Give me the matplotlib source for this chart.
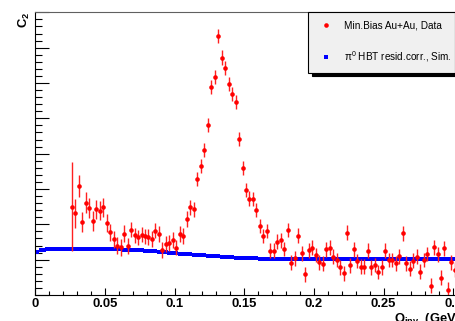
import numpy as np
import matplotlib
matplotlib.use('Agg')
import matplotlib.pyplot as plt
from matplotlib.ticker import MultipleLocator, FuncFormatter
from matplotlib.lines import Line2D

plt.rcParams['font.family'] = ['Liberation Sans', 'DejaVu Sans']
plt.rcParams['mathtext.default'] = 'regular'

# ---------------------------------------------------------
# Data, bins of 0.0025 GeV in Q_inv
# ---------------------------------------------------------
c2_data = [
    1.0150, 1.0131, 1.0208, 1.0107, 1.0161, 1.0147, 1.0109, 1.0143, 1.0139, 1.0148,
    1.0103, 1.0078, 1.0058, 1.0039, 1.0035, 1.0074, 1.0039, 1.0085, 1.0069, 1.0063,
    1.0071, 1.0066, 1.0064, 1.0059, 1.0082, 1.0072, 1.0027, 1.0044, 1.0047, 1.0056,
    1.0034, 1.0072, 1.0067, 1.0115, 1.0148, 1.0142, 1.0228, 1.0265, 1.0310, 1.0380,
    1.0488, 1.0516, 1.0632, 1.0572, 1.0542, 1.0496, 1.0469, 1.0445, 1.0341, 1.0259,
    1.0197, 1.0173, 1.0172, 1.0140, 1.0095, 1.0067, 1.0081, 1.0025, 1.0025, 1.0051,
    1.0055, 1.0030, 1.0084, 0.9991, 1.0004, 1.0068, 1.0018, 0.9959, 1.0027, 1.0034,
    1.0013, 0.9993, 0.9989, 1.0029, 1.0034, 1.0008, 0.9999, 0.9979, 0.9961, 1.0076,
    0.9984, 1.0029, 0.9996, 0.9980, 0.9980, 1.0025, 0.9978, 0.9985, 0.9965, 0.9979,
    1.0025, 0.9999, 0.9999, 0.9990, 1.0010, 1.0075, 0.9990, 0.9974, 0.9997, 1.0008,
    0.9966, 0.9999, 1.0016, 0.9926, 1.0035, 1.0015, 0.9949, 1.0032, 0.9915, 0.9993,
    0.9971,
]
c2_err = [
    0.0125, 0.0040, 0.0031, 0.0028, 0.0030, 0.0028, 0.0028, 0.0027, 0.0027, 0.0026,
    0.0025, 0.0024, 0.0024, 0.0024, 0.0024, 0.0024, 0.0023, 0.0022, 0.0022, 0.0022,
    0.0022, 0.0022, 0.0022, 0.0022, 0.0022, 0.0022, 0.0022, 0.0022, 0.0022, 0.0022,
    0.0022, 0.0022, 0.0022, 0.0022, 0.0022, 0.0022, 0.0020, 0.0020, 0.0020, 0.0020,
    0.0020, 0.0020, 0.0020, 0.0020, 0.0020, 0.0020, 0.0020, 0.0020, 0.0020, 0.0020,
    0.0020, 0.0020, 0.0020, 0.0020, 0.0020, 0.0020, 0.0020, 0.0021, 0.0021, 0.0021,
    0.0021, 0.0021, 0.0021, 0.0021, 0.0021, 0.0021, 0.0021, 0.0021, 0.0021, 0.0021,
    0.0021, 0.0021, 0.0021, 0.0021, 0.0021, 0.0021, 0.0021, 0.0021, 0.0021, 0.0021,
    0.0021, 0.0021, 0.0021, 0.0021, 0.0021, 0.0021, 0.0021, 0.0021, 0.0021, 0.0021,
    0.0021, 0.0021, 0.0021, 0.0021, 0.0021, 0.0021, 0.0021, 0.0021, 0.0021, 0.0021,
    0.0021, 0.0021, 0.0021, 0.0021, 0.0021, 0.0021, 0.0021, 0.0021, 0.0021, 0.0021,
    0.0021,
]
q_data = 0.02625 + 0.0025 * np.arange(len(c2_data))

c2_sim = [
    1.0022, 1.0026, 1.0028, 1.0029, 1.0029, 1.0029, 1.0030, 1.0030, 1.0030, 1.0030,
    1.0030, 1.0030, 1.0030, 1.0030, 1.0030, 1.0030, 1.0030, 1.0030, 1.0030, 1.0030,
    1.0030, 1.0029, 1.0029, 1.0029, 1.0029, 1.0028, 1.0028, 1.0027, 1.0027, 1.0026,
    1.0026, 1.0025, 1.0025, 1.0024, 1.0024, 1.0023, 1.0022, 1.0021, 1.0020, 1.0019,
    1.0018, 1.0017, 1.0017, 1.0016, 1.0015, 1.0014, 1.0013, 1.0013, 1.0012, 1.0011,
    1.0010, 1.0010, 1.0009, 1.0008, 1.0008, 1.0007, 1.0007, 1.0006, 1.0006, 1.0005,
    1.0005, 1.0004, 1.0004, 1.0004, 1.0003, 1.0003, 1.0003, 1.0002, 1.0002, 1.0002,
    1.0002, 1.0002, 1.0002, 1.0002, 1.0002, 1.0002, 1.0002, 1.0002, 1.0002, 1.0002,
    1.0002, 1.0002, 1.0002, 1.0002, 1.0002, 1.0002, 1.0001, 1.0001, 1.0001, 1.0001,
    1.0001, 1.0001, 1.0001, 1.0001, 1.0001, 1.0001, 1.0001, 1.0001, 1.0001, 1.0001,
    1.0001, 1.0001, 1.0001, 1.0001, 1.0001, 1.0001, 1.0001, 1.0001, 1.0001, 1.0001,
    1.0001, 1.0001, 1.0001, 1.0001, 1.0001, 1.0001, 1.0001, 1.0001, 1.0001, 1.0001,
    1.0001, 1.0001, 1.0001,
]
q_sim = 0.00125 + 0.0025 * np.arange(len(c2_sim))

label_data = "Min.Bias Au+Au, Data"
label_sim = "π$^0$ HBT resid.corr., Sim."

# ---------------------------------------------------------
# Figure
# ---------------------------------------------------------
W, H = 456, 321
fig = plt.figure(figsize=(W / 100, H / 100), dpi=100)
ax = fig.add_axes([35.3 / W, 26 / H, 0.31 * 1393 / W, 282.7 / H])

ax.plot(q_sim, c2_sim, ls='', marker='s', ms=3.0, mew=0, color='#0000ff', zorder=2)
ax.errorbar(q_data, c2_data, yerr=c2_err, fmt='o', ms=3.3, mew=0, color='#ff0000',
            ecolor='#ff2020', elinewidth=1.0, capsize=0, zorder=3)

ax.set_xlim(0, 0.31)
ax.set_ylim(0.99, 1.07)

ax.xaxis.set_major_locator(MultipleLocator(0.05))
ax.xaxis.set_minor_locator(MultipleLocator(0.01))
ax.yaxis.set_major_locator(MultipleLocator(0.01))
ax.yaxis.set_minor_locator(MultipleLocator(0.002))
ax.xaxis.set_major_formatter(FuncFormatter(lambda v, p: f"{v:g}"))

ax.tick_params(axis='x', which='major', direction='in', length=5.3, width=0.8,
               pad=2, labelsize=9.4)
ax.tick_params(axis='x', which='minor', direction='in', length=2.6, width=0.8)
ax.tick_params(axis='y', which='major', direction='in', length=9.9, width=0.8,
               labelleft=False)
ax.tick_params(axis='y', which='minor', direction='in', length=5, width=0.8)
for lab in ax.get_xticklabels():
    lab.set_fontweight('bold')

ax.spines['top'].set_color('#606060')
ax.spines['right'].set_visible(False)
for s in ax.spines.values():
    s.set_linewidth(0.8)

# legend
handles = [
    Line2D([], [], ls='', marker='o', ms=3.3, mew=0, color='#ff0000'),
    Line2D([], [], ls='', marker='s', ms=2.4, mew=0, color='#0000ff'),
]
leg = ax.legend(handles, [label_data, label_sim], loc='upper left',
                bbox_to_anchor=(308 / W, 1 - 72 / H, 147 / W, 60 / H),
                bbox_transform=fig.transFigure, mode='expand',
                fontsize=7.2, frameon=True, fancybox=False,
                shadow={'ox': 3, 'oy': -2.2, 'color': 'black', 'alpha': 1},
                borderpad=0.85, labelspacing=1.9, handlelength=2.0,
                handletextpad=0.8, borderaxespad=0)
leg.get_frame().set_facecolor('#f0f0f0')
leg.get_frame().set_edgecolor('black')
leg.get_frame().set_linewidth(0.8)
leg.get_frame().set_alpha(1)

# axis titles
fig.text(24 / W, 1 - 20 / H, 'C$_2$', rotation=90, ha='center', va='center',
         fontsize=9.4, fontweight='bold')
fig.text(394 / W, -0.003, 'Q$_{inv}$  (GeV)', ha='left', va='baseline',
         fontsize=9.4, fontweight='bold')

fig.savefig('out.png', dpi=100)
